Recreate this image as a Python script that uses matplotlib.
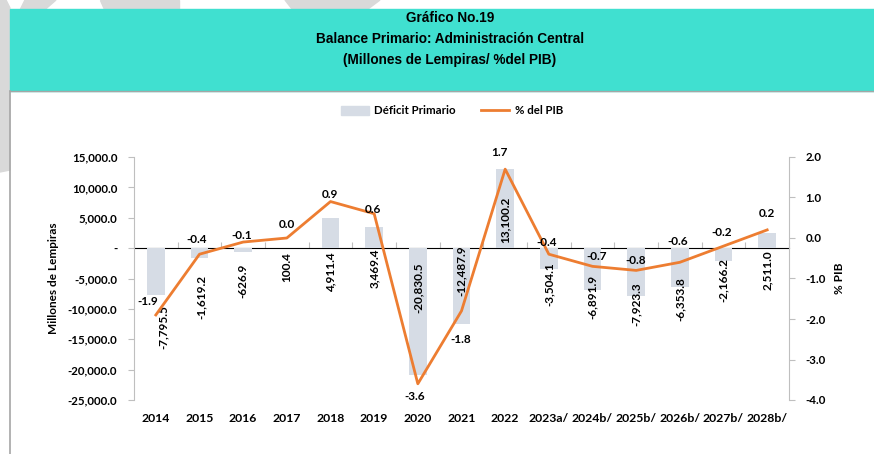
import numpy as np
import matplotlib
matplotlib.use('Agg')
import matplotlib.pyplot as plt
from matplotlib.patches import Rectangle, Polygon, Patch
from matplotlib.lines import Line2D
from matplotlib.ticker import FuncFormatter, MultipleLocator

# data
years = ['2014', '2015', '2016', '2017', '2018', '2019', '2020', '2021', '2022',
         '2023a/', '2024b/', '2025b/', '2026b/', '2027b/', '2028b/']
deficit = [-7795.5, -1619.2, -626.9, 100.4, 4911.4, 3469.4, -20830.5, -12487.9,
           13100.2, -3504.1, -6891.9, -7923.3, -6353.8, -2166.2, 2511.0]
pct_pib = [-1.9, -0.4, -0.1, 0.0, 0.9, 0.6, -3.6, -1.8, 1.7, -0.4, -0.7, -0.8,
           -0.6, -0.2, 0.2]

# label placement (pixels)
bar_lbl_pad = [57, 27, 15, 4, 4, 0, 14, -3, -51, 14, 27, 34, 29, 10, 2]
bar_lbl_dx = [7, 2, 0, 0, 0, 0, 0, 0, 0, 0, 0, 0, 0, 0, 0]
pct_lbl_dx = [-8, -3, -1, 0, -1, -1, -3, -1, -6, -2, 4, 0, -2, -2, 0]
pct_lbl_dy = [13, 15, 7, 13, 7, 4, -13, -29, 17, 12, 10, 10, 21, 14, 16]

W, H = 874, 454
BAR = '#D6DCE5'
ORANGE = '#ED7D31'
GRID = '#BFBFBF'
TEAL = '#40E0D0'

plt.rcParams['font.family'] = ['Lato', 'DejaVu Sans']
plt.rcParams['font.weight'] = 'bold'

fig = plt.figure(figsize=(W / 100, H / 100), dpi=100)

def fx(px):
    return px / W

def fy(py):
    return 1 - py / H

# background watermark stripes
gray = '#D9D9D9'
for pts in ([(0, 0), (6, 0), (10, 8), (10, 60), (0, 80)],
            [(25, 0), (56, 0), (10, 40), (10, 170), (0, 172), (0, 50)],
            [(100, 0), (179, 0), (179, 9), (104, 9)],
            [(285, 0), (380, 0), (368, 9), (292, 9)]):
    fig.patches.append(Polygon([(fx(a), fy(b)) for a, b in pts], closed=True,
                               transform=fig.transFigure, color=gray, zorder=0))

# header band
fig.patches.append(Rectangle((fx(10), fy(91)), 1 - fx(10), fy(9) - fy(91),
                             transform=fig.transFigure, color=TEAL, zorder=1))
fig.lines.append(Line2D([fx(10), 1], [fy(91), fy(91)], transform=fig.transFigure,
                        color='#A6A6A6', lw=1))
fig.lines.append(Line2D([fx(9.5), fx(9.5)], [fy(91), 0], transform=fig.transFigure,
                        color='#A6A6A6', lw=1.2))

tfont = ['Liberation Sans Narrow', 'Liberation Sans', 'DejaVu Sans']
for txt, py in (('Gráfico No.19', 18),
                ('Balance Primario: Administración Central', 39),
                ('(Millones de Lempiras/ %del PIB)', 60)):
    fig.text(fx(450), fy(py), txt, ha='center', va='center', fontsize=9.8,
             fontweight='bold', family=tfont)

ax1 = fig.add_axes([fx(134), fy(400), fx(789) - fx(134), fy(157) - fy(400)])
ax2 = ax1.twinx()
ax2.set_zorder(ax1.get_zorder() + 1)
ax2.patch.set_visible(False)

x = np.arange(len(years))
ax1.bar(x, deficit, width=0.41, color=BAR, zorder=2)
ax1.set_xlim(-0.5, len(years) - 0.5)
ax1.set_ylim(-25000, 15000)
ax1.yaxis.set_major_locator(MultipleLocator(5000))
ax1.yaxis.set_major_formatter(FuncFormatter(
    lambda v, p: '-' if abs(v) < 1e-9 else f'{v:,.1f}'))
ax1.set_xticks(x)
ax1.set_xticklabels(years)
ax1.tick_params(axis='x', length=0, pad=9, labelsize=8.8)
ax1.tick_params(axis='y', length=4, color=GRID, labelsize=8.3, pad=8)
for s in ('top', 'right', 'bottom'):
    ax1.spines[s].set_visible(False)
ax1.spines['left'].set_color(GRID)
ax1.set_ylabel('Millones de Lempiras', fontsize=8.5, fontweight='bold', labelpad=6)

# category axis at zero
zero_frac = (0 - ax1.get_ylim()[0]) / (ax1.get_ylim()[1] - ax1.get_ylim()[0])
sec = ax1.secondary_xaxis(zero_frac)
bounds = np.arange(-0.5, len(years))
sec.set_xticks(bounds)
sec.set_xticklabels([''] * len(bounds))
sec.tick_params(length=4, color=GRID)
sec.spines['bottom'].set_color(GRID)
sec.spines['bottom'].set_linewidth(1.2)

for i, v in enumerate(deficit):
    ax1.annotate(f'{v:,.1f}', xy=(i, 0), xytext=(bar_lbl_dx[i], -bar_lbl_pad[i]),
                 textcoords='offset pixels', rotation=90, ha='center', va='top',
                 fontsize=8.5, fontweight='bold', zorder=5)

ax2.plot(x, pct_pib, color=ORANGE, lw=2, zorder=3)
ax2.set_ylim(-4, 2)
ax2.yaxis.set_major_locator(MultipleLocator(1))
ax2.yaxis.set_major_formatter(FuncFormatter(lambda v, p: f'{v:.1f}'))
ax2.tick_params(axis='y', length=4, color=GRID, labelsize=8.3, pad=8)
for s in ('top', 'left', 'bottom'):
    ax2.spines[s].set_visible(False)
ax2.spines['right'].set_color(GRID)
ax2.set_ylabel('% PIB', fontsize=8.5, fontweight='bold', labelpad=6)

for i, v in enumerate(pct_pib):
    ax2.annotate(f'{v:.1f}', xy=(i, v), xytext=(pct_lbl_dx[i], pct_lbl_dy[i]),
                 textcoords='offset pixels', ha='center', va='center',
                 fontsize=8.5, fontweight='bold')

handles = [Patch(color=BAR, label='Déficit Primario'),
           Line2D([], [], color=ORANGE, lw=2, label='% del PIB')]
fig.legend(handles=handles, loc='center', bbox_to_anchor=(fx(452), fy(111)),
           ncol=2, frameon=False, fontsize=8.3, handlelength=2.4,
           columnspacing=2.2, handletextpad=0.5)

fig.savefig('out.png', dpi=100)
